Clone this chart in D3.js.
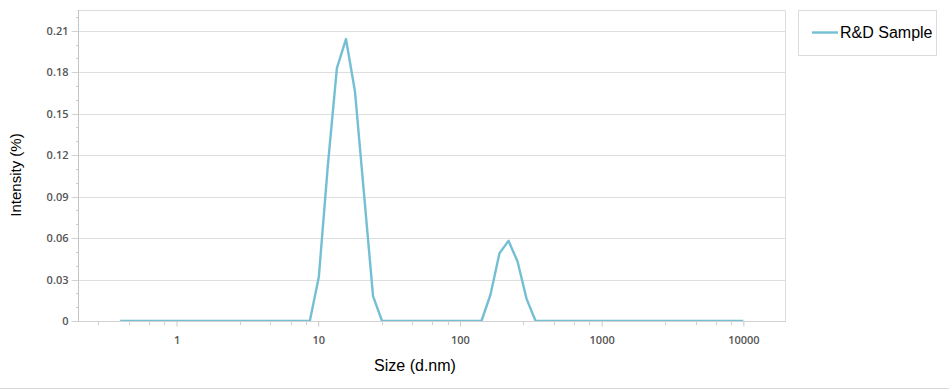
<!DOCTYPE html>
<html>
<head>
<meta charset="utf-8">
<script src="https://cdn.jsdelivr.net/npm/d3@7"></script>
<style>
  body { margin: 0; background: #fff; }
  svg { display: block; }
</style>
</head>
<body>
<div id="chart"></div>
<script>
// size bins (d.nm), as exported by the instrument
var sizes = [0.4, 0.4632, 0.5365, 0.6213, 0.7195, 0.8332, 0.9649, 1.117, 1.294, 1.499,
  1.736, 2.010, 2.328, 2.696, 3.122, 3.615, 4.187, 4.849, 5.615, 6.503,
  7.531, 8.721, 10.10, 11.70, 13.54, 15.69, 18.17, 21.04, 24.36, 28.21,
  32.67, 37.84, 43.82, 50.75, 58.77, 68.06, 78.82, 91.28, 105.7, 122.4,
  141.8, 164.2, 190.1, 220.2, 255.0, 295.3, 342.0, 396.1, 458.7, 531.2,
  615.1, 712.4, 825.0, 955.4, 1106, 1281, 1484, 1718, 1990, 2305,
  2669, 3091, 3580, 4145, 4801, 5560, 6439, 7456, 8635, 10000];

// intensity (%) for "R&D Sample"
var intensity = [0, 0, 0, 0, 0, 0, 0, 0, 0, 0,
  0, 0, 0, 0, 0, 0, 0, 0, 0, 0,
  0, 0, 0.032, 0.113, 0.183, 0.204, 0.166, 0.092, 0.018, 0,
  0, 0, 0, 0, 0, 0, 0, 0, 0, 0,
  0, 0.019, 0.049, 0.058, 0.043, 0.016, 0, 0, 0, 0,
  0, 0, 0, 0, 0, 0, 0, 0, 0, 0,
  0, 0, 0, 0, 0, 0, 0, 0, 0, 0];

var seriesName = "R&D Sample";
var xTicks = [1, 10, 100, 1000, 10000];
var xMinorFactors = [2.8, 4.6, 6.4, 8.2];
var yTicks = [0, 0.03, 0.06, 0.09, 0.12, 0.15, 0.18, 0.21];
var yMinorTicks = [0.01, 0.02, 0.04, 0.05, 0.07, 0.08, 0.10, 0.11, 0.13, 0.14, 0.16, 0.17, 0.19, 0.20, 0.22];

var width = 949, height = 389;
var plot = {left: 77.5, right: 786, top: 10, bottom: 321};
var lineColor = "#74bfd3";
var tickFont = "'Open Sans', sans-serif";
var textFont = "'Liberation Sans', Arial, sans-serif";

var svg = d3.select("#chart").append("svg")
  .attr("width", width)
  .attr("height", height);

var x = d3.scaleLog().domain([0.2, 20000]).range([plot.left, plot.right]);
var y = d3.scaleLinear().domain([0, 0.225]).range([plot.bottom, plot.top]);

// clip so the zero baseline of the series sits half under the axis
svg.append("clipPath").attr("id", "plotClip")
  .append("rect")
  .attr("x", plot.left).attr("y", plot.top - 5)
  .attr("width", plot.right - plot.left).attr("height", plot.bottom - plot.top + 5.5);

// gridlines
svg.append("g").selectAll("line")
  .data(yTicks.filter(function(d) { return d > 0; }))
  .join("line")
  .attr("x1", plot.left - 6).attr("x2", plot.right)
  .attr("y1", function(d) { return Math.round(y(d)) + 0.5; })
  .attr("y2", function(d) { return Math.round(y(d)) + 0.5; })
  .attr("stroke", "#dedede");

// plot border (top, right)
svg.append("path")
  .attr("d", "M" + plot.left + "," + (plot.top + 0.5) + "H" + (plot.right - 0.5) + "V" + plot.bottom)
  .attr("fill", "none")
  .attr("stroke", "#dcdcdc");

// the series
var line = d3.line()
  .x(function(d, i) { return x(sizes[i]); })
  .y(function(d) { return y(d); });

svg.append("path")
  .datum(intensity)
  .attr("d", line)
  .attr("clip-path", "url(#plotClip)")
  .attr("fill", "none")
  .attr("stroke", lineColor)
  .attr("stroke-width", 2.4)
  .attr("stroke-linejoin", "round");

// y axis
var yAxis = svg.append("g")
  .attr("transform", "translate(" + (Math.round(plot.left) + 0.5) + ",0)")
  .call(d3.axisLeft(y).tickValues(yTicks).tickSize(6).tickPadding(4)
    .tickFormat(function(d) { return d === 0 ? "0" : d3.format(".2f")(d); }));
yAxis.select(".domain").attr("stroke", "#c4c4c4").attr("d", "M0," + plot.top + "V" + (plot.bottom + 0.5));
yAxis.selectAll(".tick line").attr("stroke", "#d0d0d0");
yAxis.selectAll(".tick text")
  .attr("font-family", tickFont).attr("font-size", 11).attr("font-weight", 600).attr("fill", "#555");
yAxis.selectAll(".tick").attr("transform", function(d) {
  return "translate(0," + (Math.round(y(d)) + 0.5) + ")";
});

svg.append("g").selectAll("line")
  .data(yMinorTicks)
  .join("line")
  .attr("x1", Math.round(plot.left) - 2).attr("x2", Math.round(plot.left))
  .attr("y1", function(d) { return Math.round(y(d)) + 0.5; })
  .attr("y2", function(d) { return Math.round(y(d)) + 0.5; })
  .attr("stroke", "#cfcfcf");

// x axis
var xAxis = svg.append("g")
  .attr("transform", "translate(0," + (plot.bottom + 0.5) + ")")
  .call(d3.axisBottom(x).tickValues(xTicks).tickSize(5).tickPadding(10)
    .tickFormat(d3.format("d")));
xAxis.select(".domain").attr("stroke", "#d2d2d2").attr("d", "M" + (plot.left - 6) + ",0H" + plot.right);
xAxis.selectAll(".tick line").attr("stroke", "#c8c8c8");
xAxis.selectAll(".tick text")
  .attr("font-family", tickFont).attr("font-size", 11).attr("font-weight", 600).attr("fill", "#555");

var minorX = [];
[0.1, 1, 10, 100, 1000].forEach(function(decade) {
  xMinorFactors.forEach(function(f) {
    var v = decade * f;
    if (v > 0.2) minorX.push(v);
  });
});
svg.append("g").selectAll("line")
  .data(minorX)
  .join("line")
  .attr("x1", function(d) { return Math.round(x(d)) + 0.5; })
  .attr("x2", function(d) { return Math.round(x(d)) + 0.5; })
  .attr("y1", plot.bottom + 1).attr("y2", plot.bottom + 4)
  .attr("stroke", "#cfcfcf");

// axis titles
svg.append("text")
  .attr("x", 415).attr("y", 371)
  .attr("text-anchor", "middle")
  .attr("font-family", textFont).attr("font-size", 16)
  .text("Size (d.nm)");

svg.append("text")
  .attr("transform", "translate(21,175) rotate(-90)")
  .attr("text-anchor", "middle")
  .attr("font-family", textFont).attr("font-size", 15)
  .text("Intensity (%)");

// legend
var legend = svg.append("g");
legend.append("rect")
  .attr("x", 798.5).attr("y", 10.5).attr("width", 138).attr("height", 45)
  .attr("fill", "#fff").attr("stroke", "#dcdcdc");
legend.append("line")
  .attr("x1", 812).attr("x2", 838).attr("y1", 32.5).attr("y2", 32.5)
  .attr("stroke", lineColor).attr("stroke-width", 2.4);
legend.append("text")
  .attr("x", 840).attr("y", 38)
  .attr("font-family", textFont).attr("font-size", 16)
  .text(seriesName);

// bottom frame line
svg.append("line")
  .attr("x1", 0).attr("x2", width).attr("y1", 388.5).attr("y2", 388.5)
  .attr("stroke", "#d8d8d8");
</script>
</body>
</html>
